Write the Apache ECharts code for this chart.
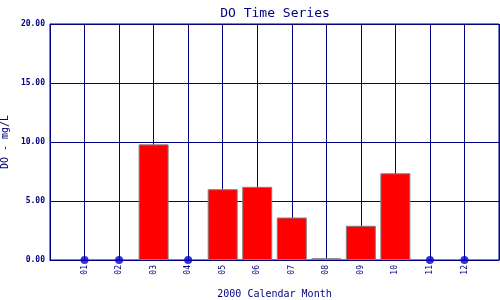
<!DOCTYPE html>
<html><head><meta charset="utf-8">
<script src="https://cdn.jsdelivr.net/npm/echarts@6/dist/echarts.min.js"></script>
<style>html,body{margin:0;padding:0;background:#fff}#c{width:500px;height:300px}</style>
</head><body><div id="c"></div>
<script>
var months = ['', '01','02','03','04','05','06','07','08','09','10','11','12', ''];
var doValues = [null, null, null, 9.8, null, 6.0, 6.2, 3.6, 0.15, 2.9, 7.35, null, null, null];
var missing = [null, 0, 0, null, 0, null, null, null, null, null, null, 0, 0, null];
var yTicks = [0, 5, 10, 15, 20];
var navy = '#000080';
var mono = 'DejaVu Sans Mono';
var chart = echarts.init(document.getElementById('c'));
chart.setOption({
  animation: false,
  title: { text: 'DO Time Series', left: 270, textAlign: 'center', top: 2,
    textStyle: { fontFamily: mono, fontSize: 13, fontWeight: 'normal', color: navy } },
  grid: { left: 50, right: 1, top: 24, bottom: 40, containLabel: false, outerBoundsMode: 'none',
    show: true, borderColor: navy, borderWidth: 1, backgroundColor: 'transparent' },
  xAxis: {
    type: 'category', data: months, boundaryGap: false,
    name: '2000 Calendar Month', nameLocation: 'middle', nameGap: 29,
    nameTextStyle: { fontFamily: mono, fontSize: 10, color: navy },
    axisLine: { lineStyle: { color: navy, width: 1 } },
    axisTick: { show: false },
    axisLabel: { rotate: 90, interval: 0, fontFamily: mono, fontSize: 8, color: navy, margin: 5 },
    splitLine: { show: true, interval: 0, lineStyle: { color: navy, width: 1 } }
  },
  yAxis: {
    type: 'value', min: yTicks[0], max: yTicks[yTicks.length-1], interval: 5,
    name: 'DO - mg/L', nameLocation: 'middle', nameGap: 35,
    nameTextStyle: { fontFamily: mono, fontSize: 10, color: navy },
    axisLine: { show: true, lineStyle: { color: navy, width: 1 } },
    axisTick: { show: false },
    axisLabel: { formatter: function(v){ return v.toFixed(2); }, fontFamily: mono, fontSize: 8, fontWeight: 'bold', color: navy, margin: 5 },
    splitLine: { show: true, lineStyle: { color: navy, width: 1 } }
  },
  series: [
    { type: 'bar', data: doValues, barWidth: 30,
      itemStyle: { color: '#ff0000', borderColor: '#808080', borderWidth: 1 } },
    { type: 'scatter', data: missing, symbol: 'circle', symbolSize: 8, clip: false,
      itemStyle: { color: '#0000cc' }, z: 5 }
  ]
});
</script></body></html>
